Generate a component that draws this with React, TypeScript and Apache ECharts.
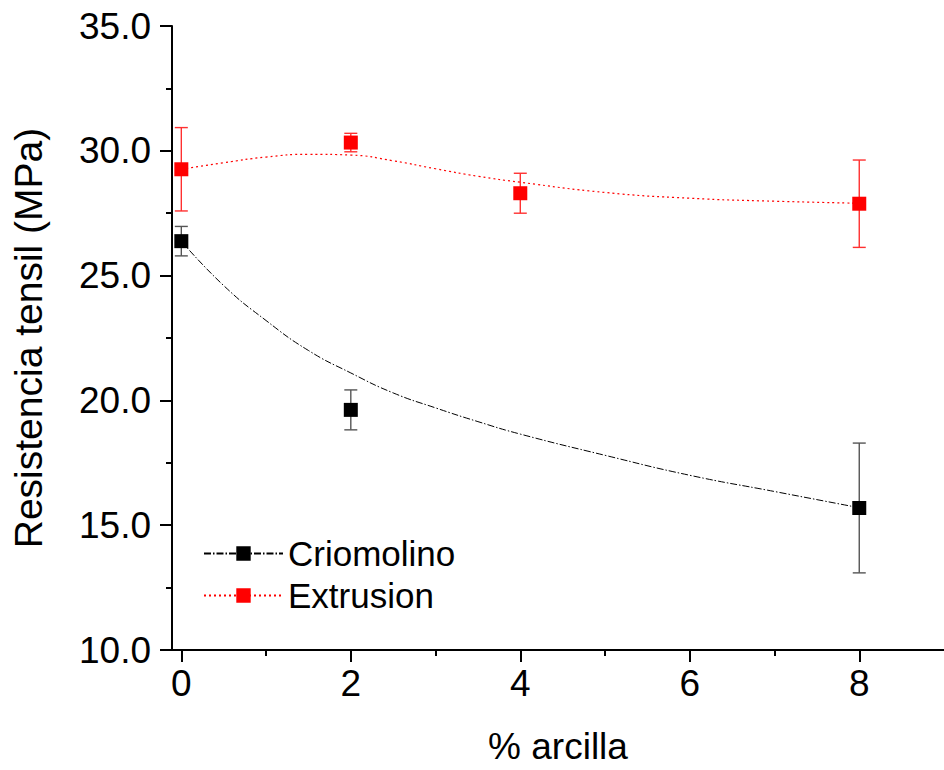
import React, { useEffect, useRef } from "react";
import * as echarts from "echarts";

// Measured points (mean, error) for each process
const xPoints = [0, 2, 8];
const crioMean = [26.38, 19.62, 15.69];
const crioErr = [0.59, 0.8, 2.6];

const xPointsExt = [0, 2, 4, 8];
const extMean = [29.26, 30.33, 28.3, 27.88];
const extErr = [1.67, 0.37, 0.8, 1.75];

// Fitted curves
const xCurve = [0, 0.5, 1, 1.5, 2, 2.5, 3, 3.5, 4, 5, 6, 7, 8];
const crioFit = [26.38, 24.6, 23.2, 22.0, 21.1, 20.3, 19.7, 19.15, 18.65, 17.8, 17.0, 16.35, 15.7];
const extFit = [29.26, 29.52, 29.75, 29.86, 29.83, 29.6, 29.28, 28.98, 28.74, 28.33, 28.1, 27.98, 27.9];

const xMajorTicks = [0, 2, 4, 6, 8];
const xMinorTicks = [1, 3, 5, 7];

const FONT = "Liberation Sans, Arial, sans-serif";

function errorSeries(name: string, xs: number[], ys: number[], es: number[], color: string) {
  return {
    name,
    type: "custom",
    data: xs.map((x, i) => [x, ys[i], es[i]]),
    encode: { x: 0, y: 1 },
    z: 3,
    renderItem: (params: any, api: any) => {
      const x = api.value(0);
      const y = api.value(1);
      const e = api.value(2);
      const top = api.coord([x, y + e]);
      const bot = api.coord([x, y - e]);
      const hw = 6.5;
      const style = { stroke: color, lineWidth: 1.4 };
      return {
        type: "group",
        children: [
          { type: "line", shape: { x1: top[0], y1: top[1], x2: bot[0], y2: bot[1] }, style },
          { type: "line", shape: { x1: top[0] - hw, y1: top[1], x2: top[0] + hw, y2: top[1] }, style },
          { type: "line", shape: { x1: bot[0] - hw, y1: bot[1], x2: bot[0] + hw, y2: bot[1] }, style },
        ],
      };
    },
  };
}

export default function App() {
  const ref = useRef<HTMLDivElement>(null);
  useEffect(() => {
    document.body.style.margin = "0";
    const chart = echarts.init(ref.current!, null, { renderer: "svg" });
    chart.setOption({
      animation: false,
      backgroundColor: "#fff",
      textStyle: { fontFamily: FONT },
      grid: { left: 172, top: 26, width: 775, bottom: 120, containLabel: false },
      legend: {
        data: ["Criomolino", "Extrusion"],
        orient: "vertical",
        left: 198,
        top: 531,
        itemWidth: 79,
        itemHeight: 18,
        itemGap: 7,
        textStyle: { fontSize: 35, color: "#000", fontFamily: FONT, padding: [0, 0, 0, 0] },
      },
      xAxis: [
        {
          type: "value",
          min: -0.11,
          max: 9,
          name: "% arcilla",
          nameLocation: "middle",
          nameGap: 78,
          nameTextStyle: { fontSize: 37, color: "#000", fontFamily: FONT },
          axisLine: { show: true, onZero: false, lineStyle: { color: "#000", width: 2 } },
          axisTick: { show: true, inside: false, length: 12, customValues: xMajorTicks, lineStyle: { color: "#000", width: 2 } },
          axisLabel: { customValues: xMajorTicks, fontSize: 37, color: "#000", margin: 15, fontFamily: FONT },
          splitLine: { show: false },
        },
        {
          type: "value",
          min: -0.11,
          max: 9,
          position: "bottom",
          axisLine: { show: false },
          axisTick: { show: true, inside: false, length: 6, customValues: xMinorTicks, lineStyle: { color: "#000", width: 2 } },
          axisLabel: { show: false },
          splitLine: { show: false },
        },
      ],
      yAxis: {
        type: "value",
        min: 10,
        max: 35,
        interval: 5,
        axisLine: { show: true, onZero: false, lineStyle: { color: "#000", width: 2 } },
        axisTick: { show: true, inside: false, length: 12, lineStyle: { color: "#000", width: 2 } },
        minorTick: { show: true, splitNumber: 2, length: 6, lineStyle: { color: "#000", width: 2 } },
        axisLabel: {
          fontSize: 37,
          color: "#000",
          margin: 21,
          fontFamily: FONT,
          formatter: (v: number) => v.toFixed(1),
        },
        splitLine: { show: false },
      },
      graphic: [
        {
          type: "text",
          x: 28,
          y: 338,
          rotation: Math.PI / 2,
          style: {
            text: "Resistencia tensil (MPa)",
            fontSize: 39,
            fontFamily: FONT,
            fill: "#000",
            align: "center",
            verticalAlign: "middle",
          },
        },
      ],
      series: [
        {
          name: "Criomolino",
          type: "line",
          data: xCurve.map((x, i) => [x, crioFit[i]]),
          smooth: true,
          symbol: "rect",
          symbolSize: 14,
          showSymbol: false,
          lineStyle: { color: "#000", width: 1, type: [7, 2, 1.5, 2] },
          itemStyle: { color: "#000", opacity: 1 },
          z: 2,
        },
        {
          name: "Extrusion",
          type: "line",
          data: xCurve.map((x, i) => [x, extFit[i]]),
          smooth: true,
          symbol: "rect",
          symbolSize: 14,
          showSymbol: false,
          lineStyle: { color: "#ff0000", width: 1.2, type: [2, 3] },
          itemStyle: { color: "#ff0000", opacity: 1 },
          z: 2,
        },
        errorSeries("crioErr", xPoints, crioMean, crioErr, "#555"),
        errorSeries("extErr", xPointsExt, extMean, extErr, "#ff3030"),
        {
          name: "crioPts",
          type: "scatter",
          data: xPoints.map((x, i) => [x, crioMean[i]]),
          symbol: "rect",
          symbolSize: 14,
          itemStyle: { color: "#000", opacity: 1 },
          z: 4,
        },
        {
          name: "extPts",
          type: "scatter",
          data: xPointsExt.map((x, i) => [x, extMean[i]]),
          symbol: "rect",
          symbolSize: 14,
          itemStyle: { color: "#ff0000", opacity: 1 },
          z: 4,
        },
      ],
    });
    return () => chart.dispose();
  }, []);
  return <div ref={ref} style={{ width: 944, height: 770 }} />;
}
